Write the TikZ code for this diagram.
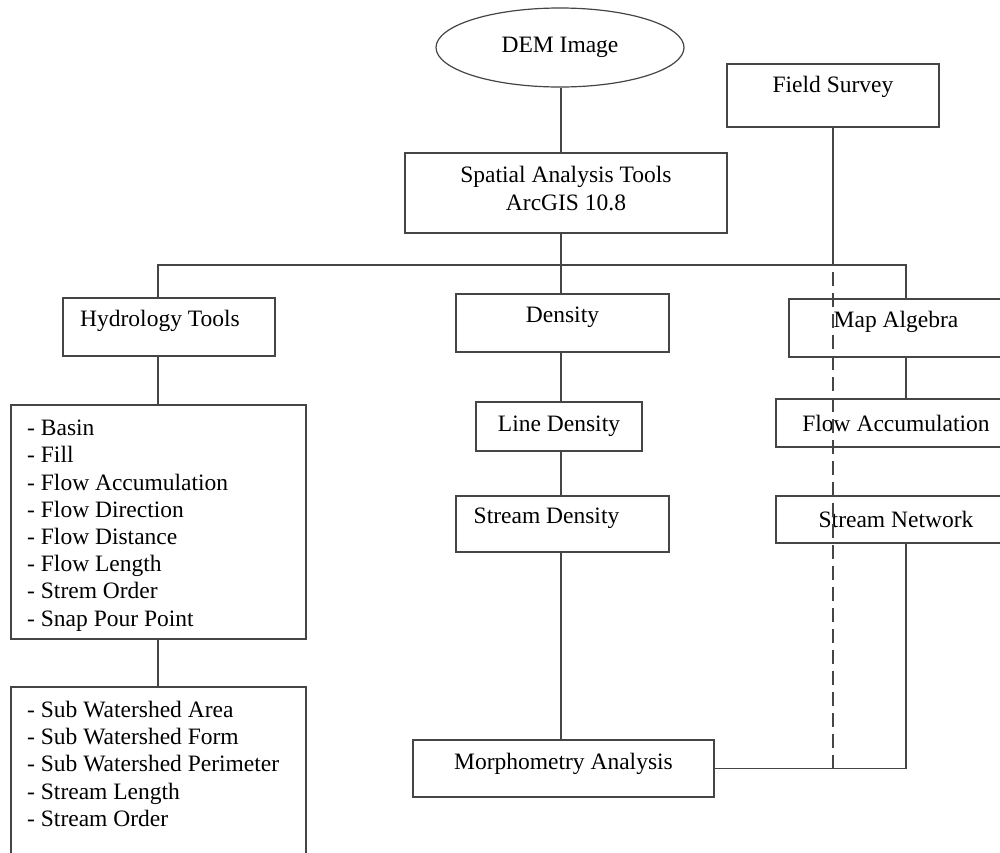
\documentclass[tikz,border=0pt]{standalone}
\usepackage{fontspec}
\setmainfont{Liberation Serif}
\usetikzlibrary{shapes.geometric}
\definecolor{linegray}{HTML}{454545}
\begin{document}
\begin{tikzpicture}[x=1pt,y=-1pt,
  box/.style={draw=linegray,line width=1.4pt,rectangle,inner sep=0pt},
  lbl/.style={inner sep=0pt,font=\fontsize{23.5}{28}\selectfont,align=center},
  lst/.style={inner sep=0pt,font=\fontsize{23.5}{27.2}\selectfont,align=left,anchor=north west},
  conn/.style={draw=linegray,line width=1.4pt},
  dashconn/.style={draw=linegray,line width=1.4pt,dash pattern=on 14pt off 7pt}]
\clip (0,0) rectangle (1000,852);
\fill[white] (0,0) rectangle (1000,852);
% nodes
\node[draw=linegray,line width=1.2pt,ellipse,minimum width=248pt,minimum height=79pt,inner sep=0pt] (dem) at (560,47.5) {};
\node[lbl] (demt) at (dem.center) {DEM Image};
\node[box,minimum width=212pt,minimum height=63pt] (fs) at (833,95.5) {};
\node[lbl,yshift=8.5pt] (fst) at (fs.center) {Field Survey};
\node[box,minimum width=322pt,minimum height=80pt] (sp) at (566,193) {};
\node[lbl,yshift=4pt] (spt) at (sp.center) {Spatial Analysis Tools\\ArcGIS 10.8};
\node[box,minimum width=212pt,minimum height=58pt] (hyd) at (169,327) {};
\node[lbl,yshift=6pt,xshift=-9pt] (hydt) at (hyd.center) {Hydrology Tools};
\node[box,minimum width=213pt,minimum height=58pt] (dens) at (562.5,323) {};
\node[lbl,yshift=6pt] (denst) at (dens.center) {Density};
\node[box,minimum width=214pt,minimum height=58pt] (map) at (896,328) {};
\node[lbl,yshift=6pt] (mapt) at (map.center) {Map Algebra};
\node[box,minimum width=166pt,minimum height=49pt] (ld) at (559,426.5) {};
\node[lbl] (ldt) at (ld.center) {Line Density};
\node[box,minimum width=240pt,minimum height=48pt] (fa) at (896,423) {};
\node[lbl] (fat) at (fa.center) {Flow Accumulation};
\node[box,minimum width=213pt,minimum height=56pt] (sd) at (562.5,524) {};
\node[lbl,yshift=6pt,xshift=-16pt] (sdt) at (sd.center) {Stream Density};
\node[box,minimum width=240pt,minimum height=47pt] (sn) at (896,519.5) {};
\node[lbl] (snt) at (sn.center) {Stream Network};
\node[box,minimum width=295pt,minimum height=234pt] (basin) at (158.5,522) {};
\node[lst] (basint) at (27,420) {- Basin\\- Fill\\- Flow Accumulation\\- Flow Direction\\- Flow Distance\\- Flow Length\\- Strem Order\\- Snap Pour Point};
\node[box,minimum width=295pt,minimum height=200pt] (sub) at (158.5,787) {};
\node[lst] (subt) at (27,701) {- Sub Watershed Area\\- Sub Watershed Form\\- Sub Watershed Perimeter\\- Stream Length\\- Stream Order};
\node[box,minimum width=301pt,minimum height=57pt] (morph) at (563.5,768.5) {};
\node[lbl,yshift=5pt] (morpht) at (morph.center) {Morphometry Analysis};
% bus coordinates
\coordinate (busL) at (158,265);
\coordinate (busC) at (561,265);
\coordinate (busR) at (906,265);
% connectors
\draw[conn] (busC |- dem.south) -- (busC |- sp.north);
\draw[conn] (busC |- sp.south) -- (busC);
\draw[conn] (busL |- hyd.north) -- (busL) -- (busR) -- (busR |- map.north);
\draw[conn] (busC) -- (busC |- dens.north);
\draw[conn] (busL |- hyd.south) -- (busL |- basin.north);
\draw[conn] (busL |- basin.south) -- (busL |- sub.north);
\draw[conn] (busC |- dens.south) -- (busC |- ld.north);
\draw[conn] (busC |- ld.south) -- (busC |- sd.north);
\draw[conn] (busC |- sd.south) -- (busC |- morph.north);
\draw[conn] (busR |- map.south) -- (busR |- fa.north);
\draw[conn] (busR |- sn.south) -- (busR |- morph.east) -- (morph.east);
\draw[conn] (fs.south) -- (fs.south |- busL);
\draw[dashconn] (fs.south |- morph.east) -- (fs.south |- busL);
\end{tikzpicture}
\end{document}
